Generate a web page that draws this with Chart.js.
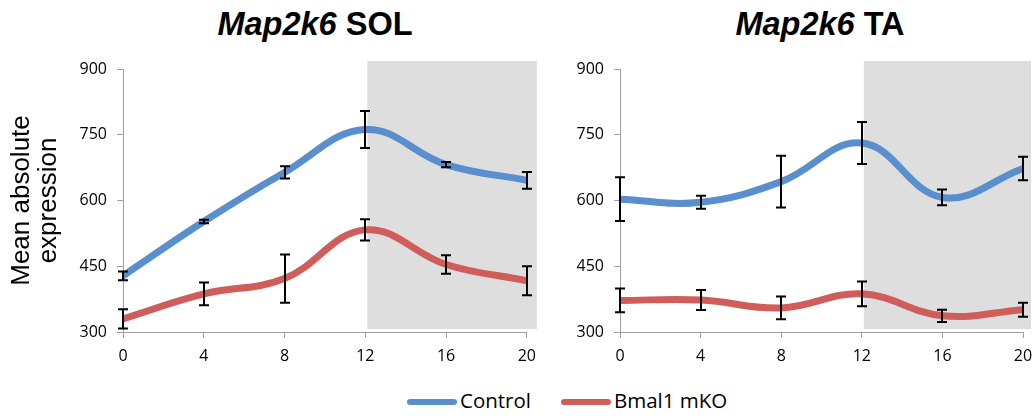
<!DOCTYPE html>
<html><head><meta charset="utf-8">
<script src="https://cdn.jsdelivr.net/npm/chart.js@4.4.1/dist/chart.umd.min.js"></script>
<style>
html,body{margin:0;padding:0;background:#fff;}
body{width:1034px;height:416px;position:relative;overflow:hidden;}
.title{position:absolute;top:6px;font-weight:bold;font-size:32.5px;font-family:"Liberation Sans",Arial,sans-serif;white-space:nowrap;transform:translateX(-50%);line-height:normal;color:#000;}
canvas{position:absolute;top:0;}
#c1{left:0;}
#c2{left:545px;}
.leg-line{position:absolute;height:6px;top:399px;width:50px;border-radius:3px;}
.leg-text{position:absolute;top:386px;line-height:28px;font-size:20.5px;font-family:"Open Sans",sans-serif;color:#000;white-space:nowrap;}
</style>
</head><body>
<div class="title" style="left:315px"><i>Map2k6</i> SOL</div>
<div class="title" style="left:820px"><i>Map2k6</i> TA</div>
<canvas id="c1" width="545" height="380"></canvas>
<canvas id="c2" width="497" height="380"></canvas>
<div class="leg-line" style="left:407px;background:#588FCC"></div>
<div class="leg-text" style="left:460px">Control</div>
<div class="leg-line" style="left:561px;background:#CF5E5A"></div>
<div class="leg-text" style="left:614px">Bmal1 mKO</div>
<script>
// Data
const hours = [0, 4, 8, 12, 16, 20];
const yTicks = [300, 450, 600, 750, 900];
const shadeRange = [12, 20];
const seriesNames = ['Control', 'Bmal1 mKO'];

const solControl    = [428, 552, 664, 762, 682, 646];
const solControlErr = [10, 4, 14, 42, 6, 19];
const solBmal       = [330, 387, 422, 533, 454, 417];
const solBmalErr    = [22, 26, 55, 24, 21, 33];

const taControl     = [603, 596, 643, 731, 607, 673];
const taControlErr  = [50, 15, 59, 48, 18, 27];
const taBmal        = [372, 373, 355, 387, 337, 351];
const taBmalErr     = [27, 23, 26, 28, 14, 16];

const BLUE = '#588FCC', RED = '#CF5E5A', AXIS = '#a0a0a0';

const shadePlugin = {
  id: 'shade',
  beforeDatasetsDraw(chart, args, o) {
    const {ctx, scales: {x, y}} = chart;
    const l = x.getPixelForValue(o.from) + o.padL;
    const r = x.getPixelForValue(o.to) + o.padR;
    const t = y.getPixelForValue(y.max) - o.padT;
    const b = y.getPixelForValue(y.min) - o.padB;
    ctx.save();
    ctx.fillStyle = o.color;
    ctx.fillRect(l, t, r - l, b - t);
    ctx.restore();
  }
};

const errorBarPlugin = {
  id: 'errbars',
  afterDatasetsDraw(chart) {
    const {ctx, chartArea, scales: {x, y}} = chart;
    ctx.save();
    ctx.beginPath();
    ctx.rect(chartArea.left - 8, chartArea.top, chartArea.width + 16, chartArea.height);
    ctx.clip();
    ctx.strokeStyle = '#000';
    ctx.lineWidth = 2;
    chart.data.datasets.forEach(ds => {
      ds.data.forEach((p, i) => {
        const e = ds.err[i];
        const px = Math.round(x.getPixelForValue(p.x));
        const yt = y.getPixelForValue(p.y + e), yb = y.getPixelForValue(p.y - e);
        ctx.beginPath();
        ctx.moveTo(px, yt); ctx.lineTo(px, yb);
        ctx.moveTo(px - 5, yt); ctx.lineTo(px + 5, yt);
        ctx.moveTo(px - 5, yb); ctx.lineTo(px + 5, yb);
        ctx.stroke();
      });
    });
    ctx.restore();
  }
};

function series(label, vals, errs, color) {
  return {
    label, err: errs,
    data: hours.map((h, i) => ({x: h, y: vals[i]})),
    borderColor: color, backgroundColor: color,
    borderWidth: 7, pointRadius: 0, pointHoverRadius: 0,
    tension: 0.4, fill: false, borderCapStyle: 'round', borderJoinStyle: 'round'
  };
}

function makeChart(id, ctrl, ctrlErr, bmal, bmalErr, o) {
  return new Chart(document.getElementById(id), {
    type: 'line',
    data: {datasets: [
      series(seriesNames[0], ctrl, ctrlErr, BLUE),
      series(seriesNames[1], bmal, bmalErr, RED)
    ]},
    options: {
      responsive: false, animation: false,
      layout: {padding: {top: 69, right: o.padRight, bottom: 0, left: 0}},
      plugins: {
        legend: {display: false}, tooltip: {enabled: false},
        shade: {from: shadeRange[0], to: shadeRange[1], padL: 2, padR: o.shadeR, padT: 8, padB: 3, color: '#dedede'}
      },
      scales: {
        x: {
          type: 'linear', min: hours[0], max: hours[hours.length - 1],
          afterBuildTicks: s => { s.ticks = hours.map(v => ({value: v})); },
          ticks: {font: {family: 'Open Sans', size: 16}, color: '#000', padding: 9, maxRotation: 0},
          grid: {drawOnChartArea: false, drawTicks: true, tickLength: 6, color: AXIS, lineWidth: 1},
          border: {color: AXIS, width: 1},
          afterFit: s => { s.height = 48; }
        },
        y: {
          min: yTicks[0], max: yTicks[yTicks.length - 1],
          afterBuildTicks: s => { s.ticks = yTicks.map(v => ({value: v})); },
          ticks: {font: {family: 'Open Sans', size: 16}, color: '#000', padding: 10},
          grid: {drawOnChartArea: false, drawTicks: true, tickLength: 6, color: AXIS, lineWidth: 1},
          border: {color: AXIS, width: 1},
          title: {display: o.showTitle, text: ['Mean absolute', 'expression'],
                  font: {family: 'Liberation Sans', size: 26, lineHeight: 1.04}, color: '#000',
                  padding: {top: 8, bottom: 0}},
          afterFit: s => { s.width = o.yWidth; }
        }
      }
    },
    plugins: [shadePlugin, errorBarPlugin]
  });
}

makeChart('c1', solControl, solControlErr, solBmal, solBmalErr, {padRight: 18, shadeR: 10, yWidth: 123, showTitle: true});
makeChart('c2', taControl, taControlErr, taBmal, taBmalErr, {padRight: 19, shadeR: 8, yWidth: 75, showTitle: false});
</script>
</body></html>
